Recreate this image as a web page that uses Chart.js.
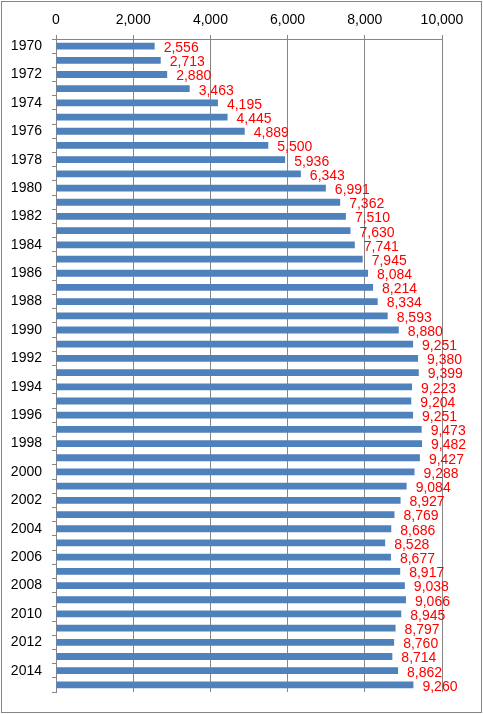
<!DOCTYPE html>
<html>
<head>
<meta charset="utf-8">
<script src="https://cdn.jsdelivr.net/npm/chart.js@4"></script>
<style>
  html, body { margin: 0; padding: 0; background: #fff; }
  #box { width: 483px; height: 714px; position: relative; }
</style>
</head>
<body>
<div id="box"><canvas id="myChart" width="483" height="714"></canvas></div>
<script>
// Годы и значения
const years = [1970, 1971, 1972, 1973, 1974, 1975, 1976, 1977, 1978, 1979,
  1980, 1981, 1982, 1983, 1984, 1985, 1986, 1987, 1988, 1989,
  1990, 1991, 1992, 1993, 1994, 1995, 1996, 1997, 1998, 1999,
  2000, 2001, 2002, 2003, 2004, 2005, 2006, 2007, 2008, 2009,
  2010, 2011, 2012, 2013, 2014, 2015];
const values = [2556, 2713, 2880, 3463, 4195, 4445, 4889, 5500, 5936, 6343,
  6991, 7362, 7510, 7630, 7741, 7945, 8084, 8214, 8334, 8593,
  8880, 9251, 9380, 9399, 9223, 9204, 9251, 9473, 9482, 9427,
  9288, 9084, 8927, 8769, 8686, 8528, 8677, 8917, 9038, 9066,
  8945, 8797, 8760, 8714, 8862, 9260];
const xTicks = [0, 2000, 4000, 6000, 8000, 10000];

const font = { family: "'Liberation Sans', Arial, sans-serif", size: 14 };

// Подписи значений справа от столбцов + рамка
const labelsPlugin = {
  id: "valueLabels",
  afterDatasetsDraw(chart) {
    const ctx = chart.ctx;
    const meta = chart.getDatasetMeta(0);
    ctx.save();
    ctx.font = "14px " + font.family;
    ctx.fillStyle = "#ff0000";
    ctx.textAlign = "left";
    ctx.textBaseline = "middle";
    meta.data.forEach(function (bar, i) {
      ctx.fillText(values[i].toLocaleString("en-US"), bar.x + 9, bar.y + 2);
    });
    ctx.restore();
  },
  afterDraw(chart) {
    const ctx = chart.ctx;
    ctx.save();
    ctx.strokeStyle = "#868686";
    ctx.lineWidth = 1;
    ctx.strokeRect(1.5, 1.5, 480, 711);
    ctx.restore();
  }
};

new Chart(document.getElementById("myChart"), {
  type: "bar",
  data: {
    labels: years,
    datasets: [{
      data: values,
      backgroundColor: "#4f81bd",
      categoryPercentage: 1,
      barPercentage: 0.48,
    }],
  },
  options: {
    indexAxis: "y",
    responsive: false,
    animation: false,
    layout: { padding: { left: 0, right: 41, top: 0, bottom: 22 } },
    plugins: { legend: { display: false }, tooltip: { enabled: false } },
    scales: {
      x: {
        position: "top",
        min: 0,
        max: 10000,
        afterFit: function (s) { s.height = 39; },
        afterBuildTicks: function (s) { s.ticks = xTicks.map(function (v) { return { value: v }; }); },
        ticks: {
          color: "#000",
          font: font,
          padding: 6,
          maxRotation: 0,
          callback: function (v) { return v.toLocaleString("en-US"); },
        },
        grid: { color: "#868686", tickLength: 4 },
        border: { color: "#868686" },
      },
      y: {
        afterFit: function (s) { s.width = 56; },
        ticks: {
          color: "#000",
          font: font,
          padding: 10,
          autoSkip: false,
          callback: function (v, i) { return i % 2 === 0 ? years[i] : ""; },
        },
        grid: { drawOnChartArea: false, color: "#868686", tickLength: 4, offset: true },
        border: { color: "#868686" },
      },
    },
  },
  plugins: [labelsPlugin],
});
</script>
</body>
</html>
